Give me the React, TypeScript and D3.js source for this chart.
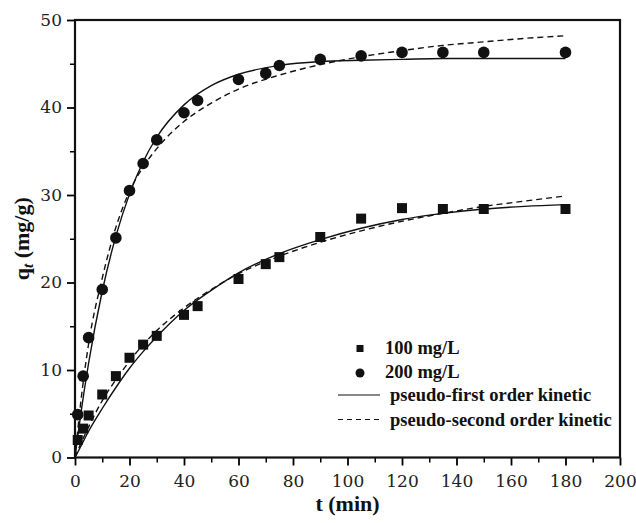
import * as d3 from "d3";
import { useEffect, useRef } from "react";

// measured points
const times = [1, 3, 5, 10, 15, 20, 25, 30, 40, 45, 60, 70, 75, 90, 105, 120, 135, 150, 180];
const q100 = [2.0, 3.3, 4.8, 7.2, 9.3, 11.4, 12.9, 13.9, 16.3, 17.3, 20.4, 22.1, 22.9, 25.2, 27.3, 28.5, 28.4, 28.4, 28.4];
const q200 = [4.9, 9.3, 13.7, 19.2, 25.1, 30.5, 33.6, 36.3, 39.4, 40.8, 43.2, 43.9, 44.8, 45.5, 45.9, 46.3, 46.3, 46.3, 46.3];

// fitted curves
const fitTimes = [0, 2, 5, 10, 15, 20, 25, 30, 40, 50, 60, 75, 90, 105, 120, 135, 150, 165, 180];
const pfo100 = [0, 1.2, 3.0, 5.6, 8.0, 10.2, 12.1, 13.8, 16.8, 19.1, 21.1, 23.3, 24.9, 26.2, 27.2, 27.9, 28.4, 28.7, 28.9];
const pso100 = [0, 1.5, 3.5, 6.5, 8.9, 11.0, 12.9, 14.5, 17.1, 19.2, 21.0, 23.0, 24.6, 25.9, 27.0, 27.9, 28.7, 29.3, 29.9];
const pfo200 = [0, 4.7, 10.8, 19.0, 25.3, 30.1, 33.8, 36.6, 40.3, 42.5, 43.8, 44.8, 45.25, 45.4, 45.5, 45.6, 45.6, 45.6, 45.6];
const pso200 = [0, 6.0, 13.0, 20.5, 26.3, 30.4, 33.2, 35.3, 38.4, 40.5, 42.1, 43.7, 44.9, 45.8, 46.5, 47.1, 47.5, 47.9, 48.2];

const xTicks = [0, 20, 40, 60, 80, 100, 120, 140, 160, 180, 200];
const yTicks = [0, 10, 20, 30, 40, 50];

const legendLabels = ["100 mg/L", "200 mg/L", "pseudo-first order kinetic", "pseudo-second order kinetic"];

const W = 636;
const H = 523;

export default function App() {
  const ref = useRef<SVGSVGElement>(null);

  useEffect(() => {
    const svg = d3.select(ref.current);
    svg.selectAll("*").remove();

    const margin = { top: 20, right: 16, bottom: 65.5, left: 75 };
    const x = d3.scaleLinear().domain([0, 200]).range([margin.left, W - margin.right]);
    const y = d3.scaleLinear().domain([0, 50]).range([H - margin.bottom, margin.top]);

    const tickFont = "'DejaVu Serif', serif";
    const titleFont = "'Liberation Serif', 'Times New Roman', serif";

    // minor ticks
    svg.append("g")
      .attr("transform", `translate(0,${y(0)})`)
      .call(d3.axisBottom(x).tickValues(d3.range(10, 200, 20)).tickSize(5).tickFormat(() => ""))
      .call(g => g.select(".domain").remove())
      .selectAll("line").attr("stroke-width", 1.5);
    svg.append("g")
      .attr("transform", `translate(${x(0)},0)`)
      .call(d3.axisLeft(y).tickValues(d3.range(5, 50, 10)).tickSize(5).tickFormat(() => ""))
      .call(g => g.select(".domain").remove())
      .selectAll("line").attr("stroke-width", 1.5);

    // major ticks
    const xa = svg.append("g")
      .attr("transform", `translate(0,${y(0)})`)
      .call(d3.axisBottom(x).tickValues(xTicks).tickSize(8).tickPadding(9).tickSizeOuter(0));
    xa.select(".domain").remove();
    xa.selectAll("line").attr("stroke-width", 1.8);
    xa.selectAll("text").attr("font-family", tickFont).attr("font-size", 17).attr("fill", "#222");

    const ya = svg.append("g")
      .attr("transform", `translate(${x(0)},0)`)
      .call(d3.axisLeft(y).tickValues(yTicks).tickSize(8).tickPadding(5).tickSizeOuter(0));
    ya.select(".domain").remove();
    ya.selectAll("line").attr("stroke-width", 1.8);
    ya.selectAll("text").attr("font-family", tickFont).attr("font-size", 17).attr("fill", "#222");

    // frame
    svg.append("rect")
      .attr("x", x(0)).attr("y", y(50))
      .attr("width", x(200) - x(0)).attr("height", y(0) - y(50))
      .attr("fill", "none").attr("stroke", "#111").attr("stroke-width", 2.2);

    // fitted lines
    const line = d3.line<number>()
      .x((_, i) => x(fitTimes[i]))
      .y(d => y(d))
      .curve(d3.curveMonotoneX);

    [pfo100, pfo200].forEach(s => {
      svg.append("path").attr("d", line(s)).attr("fill", "none")
        .attr("stroke", "#111").attr("stroke-width", 1.4);
    });
    [pso100, pso200].forEach(s => {
      svg.append("path").attr("d", line(s)).attr("fill", "none")
        .attr("stroke", "#111").attr("stroke-width", 1.4).attr("stroke-dasharray", "6,4");
    });

    // markers
    const sq = 10;
    svg.selectAll(".sq").data(q100).enter().append("rect")
      .attr("x", (d, i) => x(times[i]) - sq / 2)
      .attr("y", d => y(d) - sq / 2)
      .attr("width", sq).attr("height", sq)
      .attr("fill", "#111");
    svg.selectAll(".ci").data(q200).enter().append("circle")
      .attr("cx", (d, i) => x(times[i]))
      .attr("cy", d => y(d))
      .attr("r", 5.8)
      .attr("fill", "#111");

    // legend
    const lg = svg.append("g").attr("font-family", titleFont).attr("font-weight", "bold")
      .attr("font-size", 18.5).attr("fill", "#111");
    const rows = [354, 378, 401, 426];
    lg.append("rect").attr("x", 356.5).attr("y", 345).attr("width", 7).attr("height", 7).attr("fill", "#111");
    lg.append("circle").attr("cx", 360).attr("cy", 373).attr("r", 4.5).attr("fill", "#111");
    lg.append("line").attr("x1", 338).attr("x2", 380).attr("y1", 395).attr("y2", 395)
      .attr("stroke", "#111").attr("stroke-width", 1.2);
    lg.append("line").attr("x1", 338).attr("x2", 380).attr("y1", 419.5).attr("y2", 419.5)
      .attr("stroke", "#111").attr("stroke-width", 1.2).attr("stroke-dasharray", "5,4");
    legendLabels.forEach((t, i) => {
      lg.append("text").attr("x", i < 2 ? 385 : 390).attr("y", rows[i]).text(t);
    });

    // axis titles
    svg.append("text")
      .attr("x", (x(0) + x(200)) / 2).attr("y", 511)
      .attr("text-anchor", "middle")
      .attr("font-family", titleFont).attr("font-weight", "bold").attr("font-size", 22)
      .attr("fill", "#111")
      .text("t (min)");

    const yl = svg.append("text")
      .attr("transform", `translate(29,${(y(0) + y(50)) / 2}) rotate(-90)`)
      .attr("text-anchor", "middle")
      .attr("font-family", titleFont).attr("font-weight", "bold").attr("font-size", 22)
      .attr("fill", "#111");
    yl.append("tspan").text("q");
    yl.append("tspan").attr("font-size", 15).attr("font-style", "italic").attr("dy", 4).text("t");
    yl.append("tspan").attr("dy", -4).text(" (mg/g)");
  }, []);

  return (
    <svg ref={ref} width={W} height={H}
      style={{ position: "absolute", left: 0, top: 0, background: "#fff" }} />
  );
}
